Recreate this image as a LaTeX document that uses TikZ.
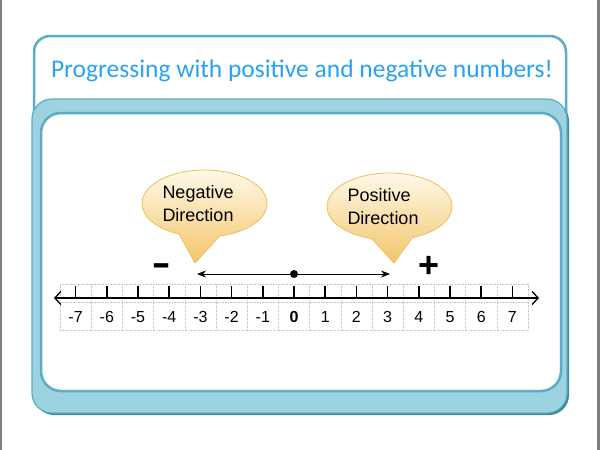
\documentclass[tikz,border=0pt]{standalone}
\usepackage{fontspec}
\usepackage{graphicx}
\setmainfont{Liberation Sans}
\newfontfamily\titlefont{Carlito}
\usetikzlibrary{arrows.meta,shapes.callouts}
\definecolor{frameblue}{HTML}{5AADC5}
\definecolor{bandblue}{HTML}{9DD2E0}
\definecolor{shadeblue}{HTML}{3E8798}
\definecolor{titleblue}{HTML}{29A3F0}
\definecolor{bubbletop}{HTML}{FFF9E8}
\definecolor{bubblebot}{HTML}{F3C56A}
\definecolor{bubbleedge}{HTML}{EDBE5E}
\begin{document}
\begin{tikzpicture}[x=1pt,y=-1pt,
		bubble/.style={ellipse callout,minimum width=125pt,minimum height=67pt,inner sep=0pt,
			callout pointer arc=38,
			top color=bubbletop,bottom color=bubblebot,draw=bubbleedge,line width=0.8pt,
			text width=84pt,align=left,font=\fontsize{18}{23}\selectfont},
		numlbl/.style={font=\fontsize{16}{16}\selectfont},
		cell/.style={densely dotted,gray!45,line width=0.6pt},
		sign/.style={font=\fontsize{36}{36}\selectfont\bfseries}]
	\useasboundingbox (0,0) rectangle (600,450);
	\fill[gray] (0,0) rectangle (2,450);
	\fill[gray] (597,0) rectangle (600,450);
	\draw[frameblue,line width=2.5pt,fill=white,rounded corners=16pt] (34,36) rectangle (566,130);
	\node[text=titleblue,font=\titlefont\fontsize{25.5}{26}\selectfont] (title) at (302,71) {Progressing with positive and negative numbers!};
	\fill[shadeblue,rounded corners=20pt] (34,101) rectangle (569,415);
	\filldraw[fill=bandblue,draw=frameblue,line width=1.2pt,rounded corners=20pt] (32,99) rectangle (567,413);
	\filldraw[fill=white,draw=frameblue,line width=2.5pt,rounded corners=20pt] (41,113) rectangle (561,391);
	\draw[cell] (60,284) -- (528,284);
	\draw[cell] (60,302) -- (528,302);
	\draw[cell] (60,330) -- (528,330);
	\foreach \k in {0,...,15}
		\draw[cell] ({60+31.2*\k},284) -- ({60+31.2*\k},330);
	\coordinate (lend) at (54,298);
	\coordinate (rend) at (539,298);
	\draw[line width=1.3pt,{Straight Barb[length=6pt,width=13pt]}-{Straight Barb[length=6pt,width=13pt]}] (lend) -- (rend);
	\foreach \i in {-7,...,7}{
		\draw[line width=1.6pt] ({294+31.2*(\i)},286) -- ({294+31.2*(\i)},298);
		\node[numlbl] (n\i) at ({294+31.2*(\i)},317) {\ifnum\i=0 \bfseries\fi\i};
	}
	\node[circle,fill,inner sep=0pt,minimum size=8pt] (zero) at (294,274) {};
	\coordinate (negtip) at (197,274);
	\coordinate (postip) at (390,274);
	\draw[line width=0.9pt,-{Stealth[length=9pt,width=7pt]}] (zero) -- (negtip);
	\draw[line width=0.9pt,-{Stealth[length=9pt,width=7pt]}] (zero) -- (postip);
	\node[font=\fontsize{29}{29}\selectfont\bfseries] (minus) at (162,271) {\scalebox{1}[1.5]{–}};
	\node[sign] (plus) at (429,267) {+};
	\node[bubble,callout absolute pointer={(195,263)}] (neg) at (204.5,203.5) {Negative\\Direction};
	\node[bubble,callout absolute pointer={(394,263)}] (pos) at (389.5,206.5) {Positive\\Direction};
\end{tikzpicture}
\end{document}
